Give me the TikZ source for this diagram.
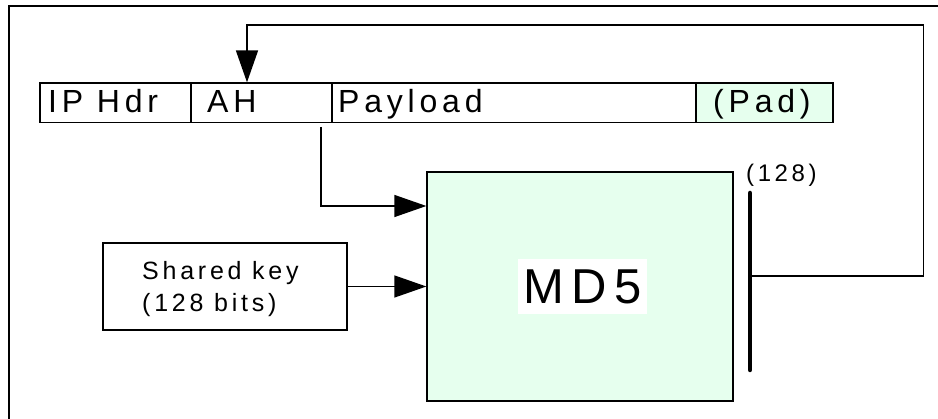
\documentclass[tikz,border=0pt]{standalone}
\usepackage{fontspec}
\setmainfont{Liberation Sans}[LetterSpace=15]
\usetikzlibrary{arrows.meta}
\definecolor{lgreen}{RGB}{230,255,238}
\begin{document}
\begin{tikzpicture}[x=1pt,y=-1pt,
  cell/.style={draw,line width=1.3pt,inner sep=0pt,minimum height=39.5pt},
  ctext/.style={anchor=base west,inner sep=0pt,font=\fontsize{32}{36}\selectfont},
  conn/.style={line width=1.3pt},
  arr/.style={conn,-{Triangle[length=32pt,width=22pt]}},
  box/.style={draw,line width=1.3pt,inner sep=0pt}]
\useasboundingbox (0,0) rectangle (938,419);
% partial frame
\draw[line width=2pt] (9,419) -- (9,6) -- (938,6);
% packet
\node[cell,minimum width=151pt] (iphdr) at (115.5,102.75) {};
\node[cell,minimum width=141pt] (ah) at (261.5,102.75) {};
\node[cell,minimum width=364pt] (payload) at (514,102.75) {};
\node[cell,minimum width=137pt,fill=lgreen] (pad) at (764.5,102.75) {};
\node[ctext] (tip) at (48,113) {IP Hdr};
\node[ctext] (tah) at (207,113) {AH};
\node[ctext] (tpay) at (338,113) {Payload};
\node[ctext] (tpad) at (713,113) {(Pad)};
% MD5
\node[box,fill=lgreen,minimum width=306pt,minimum height=229pt] (md5) at (580,286.5) {};
\node[fill=white,inner sep=0pt,minimum width=129pt,minimum height=55pt,font=\fontsize{49}{52}\selectfont] (md5t) at (582.5,286.5) {MD5};
% shared key
\node[box,minimum width=244pt,minimum height=87pt] (key) at (225,286.5) {};
\node[anchor=base west,inner sep=0pt,font=\fontsize{25}{32}\selectfont] (k1) at (142,280) {Shared key};
\node[anchor=base west,inner sep=0pt,font=\fontsize{25}{32}\selectfont] (k2) at (142,312) {(128 bits)};
% output bar
\coordinate (bartop) at (750,193);
\coordinate (barbot) at (750,370);
\draw[line width=4.5pt,line cap=round] (bartop) -- (barbot);
\node[anchor=base west,inner sep=0pt,font=\fontsize{24}{28}\selectfont] (lbl) at (746,182) {(128)};
% connectors
\coordinate (src) at (321,127);
\draw[arr] (src) |- (md5.west |- 0,206);
\draw[arr] (key.east) -- (md5.west |- key.east);
\coordinate (fbstart) at (750,276);
\coordinate (fbright) at (923.5,25);
\draw[arr,line width=1.6pt] (fbstart) -| (fbright) -| (247,25) -- (ah.north -| 247,0);
\end{tikzpicture}
\end{document}
